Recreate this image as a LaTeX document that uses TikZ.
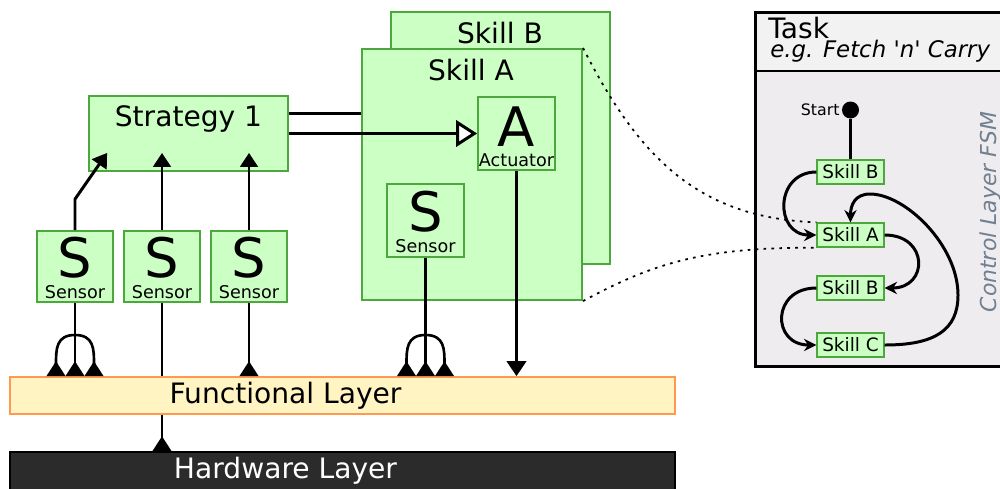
\documentclass[tikz,border=0pt]{standalone}
\usepackage{fontspec}
\setmainfont{DejaVu Sans}
\usetikzlibrary{arrows.meta,calc}
\definecolor{skillfill}{RGB}{204,255,196}
\definecolor{skilldraw}{RGB}{76,168,60}
\definecolor{layerfill}{RGB}{255,244,194}
\definecolor{layerdraw}{RGB}{255,153,80}
\definecolor{hwfill}{RGB}{43,43,43}
\definecolor{taskfill}{RGB}{238,236,238}
\definecolor{headfill}{RGB}{242,242,242}
\definecolor{fsmtext}{RGB}{112,128,144}

\begin{document}
\begin{tikzpicture}[x=0.02cm, y=-0.02cm,
  box/.style={draw=skilldraw, fill=skillfill, line width=1pt, inner sep=0pt},
  bigletter/.style={font=\fontsize{31}{34}\selectfont, inner sep=0pt, anchor=base},
  tinytext/.style={font=\fontsize{10}{12}\selectfont, inner sep=0pt, anchor=base},
  boxtitle/.style={font=\fontsize{16}{19}\selectfont, inner sep=0pt, anchor=base},
  layer/.style={line width=1pt, minimum width=13.3cm, inner sep=0pt},
  wire/.style={line width=1.5pt},
  upwire/.style={wire, -{Triangle[reversed, length=8.5pt, width=10.5pt]}},
  fsm/.style={box, line width=0.8pt, minimum width=1.34cm, minimum height=0.48cm, font=\fontsize{10.5}{12}\selectfont},
  fsmarrow/.style={line width=1.7pt, -{Stealth[length=7pt, width=7pt]}},
  link/.style={line width=1pt, dash pattern=on 1.5pt off 3pt}]
\useasboundingbox (0,0) rectangle (1000,488);

% skill stack
\node[box, line width=1.2pt, minimum width=4.38cm, minimum height=5.04cm] (skillb) at (500.5,138) {};
\node[boxtitle] (skillbt) at (500,43) {Skill B};
\node[box, line width=1.2pt, minimum width=4.4cm, minimum height=5.02cm] (skilla) at (472,174.5) {};
\node[boxtitle] (skillat) at (471,80) {Skill A};
\node[box, minimum width=1.54cm, minimum height=1.46cm] (act) at (516.5,133.5) {};
\node[bigletter] (actl) at (516.5,146) {A};
\node[tinytext] (actt) at (516.5,166) {Actuator};
\node[box, minimum width=1.54cm, minimum height=1.46cm] (sk) at (425.5,220.5) {};
\node[bigletter] (skl) at (425.5,231) {S};
\node[tinytext] (skt) at (425.5,252) {Sensor};

% strategy and its sensors
\node[box, minimum width=3.98cm, minimum height=1.5cm] (strat) at (188.5,133.5) {};
\node[boxtitle] (stratt) at (188.5,126) {Strategy 1};
\foreach \n/\x in {1/75,2/162,3/249} {
  \node[box, minimum width=1.52cm, minimum height=1.42cm] (s\n) at (\x,266.5) {};
  \node[bigletter] (sl\n) at (\x,277) {S};
  \node[tinytext] (st\n) at (\x,298) {Sensor};
}

% layers
\node[layer, draw=black, fill=hwfill, minimum height=0.9cm] (hw) at (342.5,474.5) {};
\node[boxtitle, text=white] (hwt) at (285.5,478) {Hardware Layer};
\draw[upwire] (s2.south) -- (s2.south |- hw.north);
\node[layer, draw=layerdraw, fill=layerfill, minimum height=0.74cm] (func) at (342.5,395.5) {};
\node[boxtitle] (funct) at (285.5,403) {Functional Layer};

% sensors up to the strategy
\coordinate (stratin) at ([yshift=0.38cm]strat.south);
\draw[wire, line width=1.7pt, -{Triangle[length=8pt, width=10pt]}] (s1.north) -- ++(0,-31) -- ([shift={(0.38cm,0.38cm)}]strat.south west);
\draw[wire, line width=1.7pt, -{Triangle[length=8pt, width=10pt]}] (s2.north) -- (s2.north |- stratin);
\draw[wire, line width=1.7pt, -{Triangle[length=8pt, width=10pt]}] (s3.north) -- (s3.north |- stratin);

% strategy to skill
\coordinate (stratup) at ([yshift=0.4cm]strat.east);
\draw[wire, line width=1.7pt] (stratup) -- (stratup -| skilla.west);
\draw[wire, line width=1.7pt, -{Triangle[fill=white, length=12pt, width=15pt]}] (strat.east) -- (act.west);

% down to the functional layer
\coordinate (s1fork) at (75,335);
\coordinate (skfork) at (425.5,335);
\foreach \src/\fork in {s1/s1fork, sk/skfork} {
  \draw[wire] (\src.south) -- (\fork);
  \draw[upwire] (\fork) -- (\fork |- func.north);
  \draw[upwire] (\fork) .. controls +(-19,0) and +(0,-27) .. ($(\fork |- func.north)+(-19,0)$);
  \draw[upwire] (\fork) .. controls +(19,0) and +(0,-27) .. ($(\fork |- func.north)+(19,0)$);
}
\draw[upwire] (s3.south) -- (s3.south |- func.north);
\draw[wire, -{Triangle[length=8.5pt, width=11pt]}] (act.south) -- (act.south |- func.north);

% task panel
\node[draw, fill=taskfill, line width=1.7pt, minimum width=5.1cm, minimum height=7.1cm, inner sep=0pt] (task) at (882.5,189.5) {};
\node[draw, fill=headfill, line width=1.7pt, minimum width=5.1cm, minimum height=1.18cm, inner sep=0pt] (taskhead) at (882.5,41.5) {};
\node[boxtitle, anchor=base west] (tasktitle) at (768,38) {Task};
\node[anchor=base west, inner sep=0pt, font=\fontsize{13}{15}\selectfont\itshape] (taskeg) at (770,57) {e.g. Fetch \textquotesingle n\textquotesingle{} Carry};
\node[rotate=90, anchor=base, inner sep=0pt, text=fsmtext, font=\fontsize{12.5}{15}\selectfont\itshape] (fsmlabel) at (996,212) {Control Layer FSM};

% fsm
\node[fsm] (fb1) at (850.5,172) {Skill B};
\node[fsm] (fa) at (850.5,235) {Skill A};
\node[fsm] (fb2) at (850.5,288) {Skill B};
\node[fsm] (fc) at (850.5,345) {Skill C};
\node[circle, fill, inner sep=0pt, minimum size=0.34cm] (start) at (850.5,110) {};
\node[anchor=east, inner sep=1pt, font=\fontsize{9}{11}\selectfont] (startt) at (start.west) {Start};
\draw[line width=1.7pt] (start) -- (fb1);
\draw[fsmarrow] (fb1.west) .. controls +(-42,0) and +(-42,0) .. (fa.west);
\draw[fsmarrow] (fa.east) .. controls +(44,0) and +(44,0) .. (fb2.east);
\draw[fsmarrow] (fb2.west) .. controls +(-45,0) and +(-45,0) .. (fc.west);
\draw[fsmarrow] (fc.east) .. controls (935,345) and (958,330) .. (958,295) .. controls (958,245) and (905,194) .. (870,194) .. controls (855,194) and (850.5,205) .. (fa.north);

% skill A is one state of the fsm
\draw[link] (skilla.north east) .. controls (640,160) and (700,218) .. (fa.north west);
\draw[link] (skilla.south east) .. controls (650,265) and (700,247) .. (fa.south west);
\end{tikzpicture}
\end{document}
